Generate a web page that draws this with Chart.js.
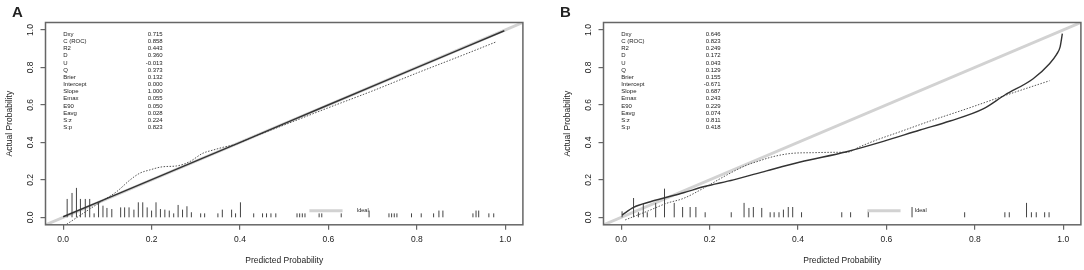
<!DOCTYPE html>
<html>
<head>
<meta charset="utf-8">
<script src="https://cdn.jsdelivr.net/npm/chart.js@4.4.1/dist/chart.umd.min.js"></script>
<style>
  html, body { margin: 0; padding: 0; background: #fff; }
  body { width: 1084px; height: 270px; position: relative; overflow: hidden; }
  .panel { position: absolute; top: 0; width: 526px; height: 270px; }
  #panelA { left: 0; }
  #panelB { left: 558px; }
</style>
</head>
<body>
<div class="panel" id="panelA"><canvas id="chartA"></canvas></div>
<div class="panel" id="panelB"><canvas id="chartB"></canvas></div>
<script>
// ---- data ----
const statNames = ["Dxy", "C (ROC)", "R2", "D", "U", "Q", "Brier", "Intercept", "Slope", "Emax", "E90", "Eavg", "S:z", "S:p"];
const statsA = ["0.715", "0.858", "0.443", "0.360", "-0.013", "0.373", "0.132", "0.000", "1.000", "0.055", "0.050", "0.028", "0.224", "0.823"];
const statsB = ["0.646", "0.823", "0.249", "0.172", "0.043", "0.129", "0.155", "-0.671", "0.687", "0.243", "0.229", "0.074", "0.811", "0.418"];

const xTickLabels = ["0.0", "0.2", "0.4", "0.6", "0.8", "1.0"];
const idealEnds = [-0.1, 1.1];

// panel A
const logisticAx = [0.0, 0.25, 0.5, 0.75, 0.998];
const logisticAy = [0.003, 0.25, 0.5, 0.75, 0.996];
const nonparAx = [0.008, 0.045, 0.09, 0.121, 0.151, 0.173, 0.196, 0.226, 0.256, 0.286, 0.316, 0.339, 0.362, 0.392, 0.422, 0.46, 0.5, 0.6, 0.7, 0.8, 0.9, 0.98];
const nonparAy = [-0.037, 0.021, 0.09, 0.137, 0.199, 0.235, 0.253, 0.27, 0.274, 0.297, 0.342, 0.359, 0.374, 0.391, 0.422, 0.457, 0.493, 0.585, 0.675, 0.77, 0.862, 0.937];
const spikeAx = [0.009, 0.020, 0.030, 0.039, 0.050, 0.060, 0.070, 0.080, 0.090, 0.099, 0.110, 0.130, 0.139, 0.149, 0.160, 0.170, 0.180, 0.190, 0.200, 0.210, 0.220, 0.230, 0.240, 0.250, 0.260, 0.270, 0.280, 0.290, 0.311, 0.320, 0.350, 0.360, 0.381, 0.390, 0.401, 0.431, 0.451, 0.460, 0.470, 0.481, 0.529, 0.535, 0.541, 0.547, 0.579, 0.585, 0.629, 0.692, 0.737, 0.743, 0.749, 0.755, 0.788, 0.810, 0.838, 0.850, 0.859, 0.927, 0.934, 0.940, 0.963, 0.974];
const spikeAh = [0.098, 0.13, 0.157, 0.098, 0.098, 0.098, 0.021, 0.08, 0.062, 0.05, 0.044, 0.053, 0.053, 0.053, 0.041, 0.08, 0.08, 0.053, 0.036, 0.08, 0.044, 0.041, 0.036, 0.021, 0.066, 0.041, 0.059, 0.027, 0.021, 0.021, 0.021, 0.041, 0.041, 0.021, 0.08, 0.021, 0.021, 0.021, 0.021, 0.021, 0.021, 0.021, 0.021, 0.021, 0.021, 0.021, 0.021, 0.036, 0.021, 0.021, 0.021, 0.021, 0.021, 0.021, 0.021, 0.036, 0.036, 0.021, 0.036, 0.036, 0.021, 0.021];

// panel B
const logisticBx = [0.002, 0.028, 0.066, 0.103, 0.141, 0.186, 0.254, 0.329, 0.405, 0.51, 0.593, 0.676, 0.744, 0.82, 0.868, 0.932, 0.969, 0.985, 0.993, 0.998];
const logisticBy = [0.012, 0.053, 0.083, 0.107, 0.131, 0.163, 0.2, 0.248, 0.295, 0.35, 0.405, 0.466, 0.514, 0.58, 0.653, 0.74, 0.82, 0.87, 0.91, 0.98];
const nonparBx = [0.009, 0.066, 0.103, 0.141, 0.186, 0.239, 0.284, 0.307, 0.344, 0.389, 0.435, 0.48, 0.51, 0.54, 0.578, 0.631, 0.70, 0.78, 0.868, 0.969];
const nonparBy = [-0.014, 0.039, 0.075, 0.101, 0.155, 0.226, 0.279, 0.297, 0.324, 0.342, 0.345, 0.347, 0.347, 0.377, 0.413, 0.457, 0.515, 0.578, 0.65, 0.729];
const spikeBx = [0.002, 0.028, 0.039, 0.050, 0.059, 0.078, 0.098, 0.120, 0.139, 0.156, 0.169, 0.190, 0.249, 0.278, 0.289, 0.299, 0.318, 0.337, 0.346, 0.357, 0.367, 0.378, 0.388, 0.408, 0.499, 0.519, 0.559, 0.658, 0.777, 0.868, 0.878, 0.917, 0.928, 0.939, 0.958, 0.968];
const spikeBh = [0.032, 0.103, 0.027, 0.073, 0.027, 0.077, 0.153, 0.077, 0.055, 0.055, 0.055, 0.027, 0.027, 0.077, 0.05, 0.055, 0.05, 0.027, 0.027, 0.027, 0.041, 0.055, 0.055, 0.027, 0.027, 0.027, 0.032, 0.055, 0.027, 0.027, 0.027, 0.077, 0.027, 0.027, 0.027, 0.027];

// ---- look ----
const FONT = '"Liberation Sans", Arial, sans-serif';
const INK = '#222';
const FRAME = '#666';
const IDEAL = '#d2d2d2';

function toPoints(xs, ys) {
    return xs.map((x, i) => ({ x: x, y: ys[i] }));
}

// each spike is its own little segment, broken by a null point
function spikePoints(xs, hs) {
    const pts = [];
    xs.forEach((x, i) => {
        pts.push({ x: x, y: 0 }, { x: x, y: hs[i] }, { x: x, y: null });
    });
    return pts;
}

// box, legend, stats table and panel letter
const decor = {
    id: 'decor',
    afterDatasetsDraw(chart, args, opts) {
        const { ctx, chartArea: a, scales: { x, y } } = chart;
        ctx.save();
        ctx.strokeStyle = FRAME;
        ctx.lineWidth = 1.5;
        ctx.strokeRect(a.left, a.top, a.right - a.left, a.bottom - a.top);

        // legend "Ideal"
        const ly = y.getPixelForValue(0.035);
        ctx.strokeStyle = IDEAL;
        ctx.lineWidth = 3;
        ctx.beginPath();
        ctx.moveTo(x.getPixelForValue(0.557), ly);
        ctx.lineTo(x.getPixelForValue(0.632), ly);
        ctx.stroke();
        ctx.fillStyle = INK;
        ctx.font = '5.5px ' + FONT;
        ctx.textBaseline = 'middle';
        ctx.textAlign = 'left';
        ctx.fillText('Ideal', x.getPixelForValue(0.664), ly);

        // statistics
        ctx.font = '6px ' + FONT;
        statNames.forEach((name, i) => {
            const py = y.getPixelForValue(0.977 - i * 0.0382);
            ctx.textAlign = 'left';
            ctx.fillText(name, x.getPixelForValue(0.0), py);
            ctx.textAlign = 'right';
            ctx.fillText(opts.values[i], x.getPixelForValue(0.225), py);
        });

        // panel letter
        ctx.font = 'bold 15px ' + FONT;
        ctx.textAlign = 'left';
        ctx.textBaseline = 'alphabetic';
        ctx.fillText(opts.letter, opts.letterX, 17);
        ctx.restore();
    }
};

function makeChart(canvasId, letter, letterX, values, lx, ly, nx, ny, sx, sh) {
    return new Chart(document.getElementById(canvasId), {
        type: 'scatter',
        data: {
            datasets: [
                {
                    label: 'Logistic calibration',
                    data: toPoints(lx, ly),
                    showLine: true,
                    borderColor: '#333',
                    borderWidth: 1.4,
                    cubicInterpolationMode: 'monotone',
                    pointRadius: 0
                },
                {
                    label: 'Nonparametric',
                    data: toPoints(nx, ny),
                    showLine: true,
                    borderColor: '#555',
                    borderWidth: 1,
                    borderDash: [1.5, 1.5],
                    cubicInterpolationMode: 'monotone',
                    pointRadius: 0
                },
                {
                    label: 'spikes',
                    data: spikePoints(sx, sh),
                    showLine: true,
                    spanGaps: false,
                    borderColor: '#444',
                    borderWidth: 1,
                    pointRadius: 0
                },
                {
                    label: 'Ideal',
                    data: toPoints(idealEnds, idealEnds),
                    showLine: true,
                    borderColor: IDEAL,
                    borderWidth: 3,
                    pointRadius: 0,
                    clip: 0
                }
            ]
        },
        options: {
            responsive: true,
            maintainAspectRatio: false,
            animation: false,
            devicePixelRatio: 1,
            layout: { padding: { top: 22.5, right: 3.1, bottom: 0, left: 0 } },
            scales: {
                x: {
                    type: 'linear',
                    min: -0.04,
                    max: 1.04,
                    afterFit: (s) => { s.height = 45.2; },
                    ticks: {
                        stepSize: 0.2,
                        includeBounds: false,
                        maxRotation: 0,
                        padding: 5,
                        color: INK,
                        font: { size: 8.5, family: FONT },
                        callback: (v) => xTickLabels[Math.round(v * 5)]
                    },
                    grid: { drawOnChartArea: false, drawTicks: true, tickLength: 5, color: FRAME, lineWidth: 1.2 },
                    border: { display: false },
                    title: {
                        display: true,
                        text: 'Predicted Probability',
                        color: INK,
                        font: { size: 8.5, family: FONT },
                        padding: { top: 0, bottom: 4 }
                    }
                },
                y: {
                    type: 'linear',
                    min: -0.04,
                    max: 1.04,
                    afterFit: (s) => { s.width = 45.5; },
                    ticks: {
                        stepSize: 0.2,
                        includeBounds: false,
                        minRotation: 90,
                        maxRotation: 90,
                        crossAlign: 'center',
                        padding: 4,
                        color: INK,
                        font: { size: 8.5, family: FONT },
                        callback: (v) => xTickLabels[Math.round(v * 5)]
                    },
                    grid: { drawOnChartArea: false, drawTicks: true, tickLength: 5, color: FRAME, lineWidth: 1.2 },
                    border: { display: false },
                    title: {
                        display: true,
                        text: 'Actual Probability',
                        color: INK,
                        font: { size: 8.5, family: FONT },
                        padding: { top: 5, bottom: 0 }
                    }
                }
            },
            plugins: {
                legend: { display: false },
                tooltip: { enabled: false },
                decor: { letter: letter, letterX: letterX, values: values }
            }
        },
        plugins: [decor]
    });
}

makeChart('chartA', 'A', 12, statsA, logisticAx, logisticAy, nonparAx, nonparAy, spikeAx, spikeAh);
makeChart('chartB', 'B', 2, statsB, logisticBx, logisticBy, nonparBx, nonparBy, spikeBx, spikeBh);
</script>
</body>
</html>
